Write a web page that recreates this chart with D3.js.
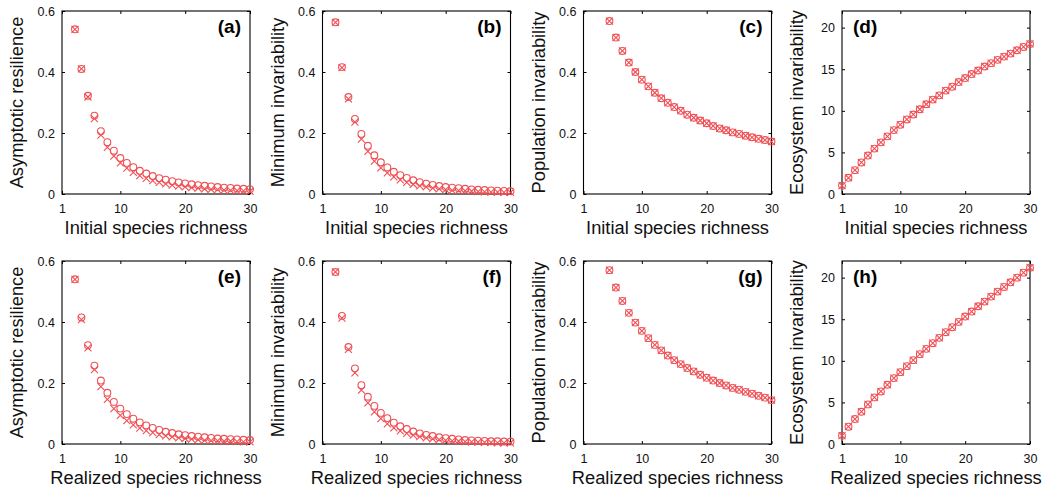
<!DOCTYPE html>
<html>
<head>
<meta charset="utf-8">
<script src="https://cdn.jsdelivr.net/npm/d3@7"></script>
<style>
  body { margin: 0; background: #fff; }
  svg { display: block; font-family: "Liberation Sans", Arial, sans-serif; }
</style>
</head>
<body>
<svg id="chart" width="1048" height="494"></svg>
<script>
// richness values (x) for each kind of panel
const richnessFrom3 = [3, 4, 5, 6, 7, 8, 9, 10, 11, 12, 13, 14, 15, 16, 17, 18, 19, 20, 21, 22, 23, 24, 25, 26, 27, 28, 29, 30];
const richnessFrom5 = [5, 6, 7, 8, 9, 10, 11, 12, 13, 14, 15, 16, 17, 18, 19, 20, 21, 22, 23, 24, 25, 26, 27, 28, 29, 30];
const richnessFrom1 = [1, 2, 3, 4, 5, 6, 7, 8, 9, 10, 11, 12, 13, 14, 15, 16, 17, 18, 19, 20, 21, 22, 23, 24, 25, 26, 27, 28, 29, 30];

const xTicks = [1, 10, 20, 30];
const fractionTicks = [0, 0.2, 0.4, 0.6];
const ecosystemTicks = [0, 5, 10, 15, 20];

// (a) asymptotic resilience vs initial richness
const resilienceInitialCircles = [0.54, 0.41, 0.322, 0.257, 0.206, 0.17, 0.142, 0.118, 0.102, 0.088, 0.076, 0.067, 0.059, 0.052, 0.047, 0.042, 0.038, 0.035, 0.032, 0.029, 0.027, 0.025, 0.023, 0.021, 0.02, 0.018, 0.017, 0.016];
const resilienceInitialCrosses = [0.54, 0.41, 0.318, 0.247, 0.193, 0.153, 0.124, 0.102, 0.085, 0.071, 0.06, 0.051, 0.044, 0.038, 0.033, 0.029, 0.026, 0.023, 0.021, 0.019, 0.017, 0.015, 0.014, 0.013, 0.012, 0.011, 0.01, 0.009];
// (b) minimum invariability vs initial richness
const minInvInitialCircles = [0.563, 0.416, 0.318, 0.246, 0.197, 0.158, 0.127, 0.104, 0.087, 0.073, 0.062, 0.053, 0.045, 0.039, 0.034, 0.03, 0.026, 0.023, 0.021, 0.019, 0.017, 0.015, 0.014, 0.013, 0.012, 0.011, 0.01, 0.009];
const minInvInitialCrosses = [0.563, 0.414, 0.312, 0.236, 0.18, 0.14, 0.108, 0.086, 0.069, 0.056, 0.046, 0.038, 0.032, 0.027, 0.023, 0.019, 0.017, 0.014, 0.012, 0.011, 0.01, 0.009, 0.008, 0.007, 0.006, 0.006, 0.005, 0.005];
// (c) population invariability vs initial richness
const popInvInitial = [0.567, 0.513, 0.469, 0.431, 0.4, 0.375, 0.353, 0.332, 0.314, 0.299, 0.285, 0.273, 0.26, 0.25, 0.241, 0.232, 0.223, 0.215, 0.209, 0.202, 0.197, 0.191, 0.186, 0.181, 0.177, 0.172];
// (d) ecosystem invariability vs initial richness
const ecoInvInitial = [1, 1.95, 2.87, 3.79, 4.62, 5.46, 6.21, 6.93, 7.68, 8.33, 8.96, 9.56, 10.19, 10.79, 11.35, 11.86, 12.43, 12.9, 13.46, 13.94, 14.42, 14.85, 15.33, 15.73, 16.13, 16.52, 16.88, 17.28, 17.68, 18.04];

// (e) asymptotic resilience vs realized richness
const resilienceRealizedCircles = [0.54, 0.415, 0.324, 0.257, 0.208, 0.168, 0.138, 0.116, 0.098, 0.083, 0.071, 0.061, 0.053, 0.046, 0.04, 0.036, 0.032, 0.029, 0.026, 0.024, 0.022, 0.02, 0.018, 0.017, 0.016, 0.015, 0.014, 0.013];
const resilienceRealizedCrosses = [0.54, 0.408, 0.315, 0.244, 0.188, 0.146, 0.116, 0.094, 0.077, 0.063, 0.052, 0.044, 0.037, 0.031, 0.027, 0.023, 0.02, 0.018, 0.016, 0.014, 0.012, 0.011, 0.01, 0.009, 0.009, 0.008, 0.007, 0.007];
// (f) minimum invariability vs realized richness
const minInvRealizedCircles = [0.564, 0.42, 0.318, 0.248, 0.193, 0.155, 0.125, 0.102, 0.085, 0.07, 0.058, 0.049, 0.041, 0.035, 0.03, 0.026, 0.022, 0.019, 0.017, 0.015, 0.013, 0.012, 0.011, 0.01, 0.009, 0.009, 0.008, 0.008];
const minInvRealizedCrosses = [0.564, 0.413, 0.31, 0.233, 0.177, 0.135, 0.105, 0.083, 0.066, 0.053, 0.043, 0.035, 0.029, 0.024, 0.02, 0.017, 0.014, 0.012, 0.01, 0.009, 0.008, 0.007, 0.006, 0.005, 0.005, 0.004, 0.004, 0.004];
// (g) population invariability vs realized richness
const popInvRealized = [0.57, 0.513, 0.469, 0.43, 0.398, 0.371, 0.347, 0.325, 0.307, 0.29, 0.275, 0.262, 0.249, 0.238, 0.227, 0.217, 0.208, 0.2, 0.192, 0.184, 0.178, 0.171, 0.165, 0.158, 0.152, 0.144];
// (h) ecosystem invariability vs realized richness
const ecoInvRealized = [1, 2.08, 3.0, 3.88, 4.76, 5.6, 6.32, 7.12, 7.92, 8.64, 9.36, 10.08, 10.8, 11.44, 12.12, 12.76, 13.44, 14.04, 14.68, 15.32, 15.92, 16.56, 17.12, 17.72, 18.32, 18.88, 19.44, 20.0, 20.6, 21.2];

const MARKER_COLOR = "#ef5055";
const PANEL_WIDTH = 188;
const PANEL_HEIGHT = 183;
const COLUMN_LEFTS = [62, 322.5, 583.5, 842];
const ROW_TOPS = [11, 261];

const panels = [
  { tag: "(a)", row: 0, col: 0, yLabel: "Asymptotic resilience", x: richnessFrom3, circles: resilienceInitialCircles, crosses: resilienceInitialCrosses },
  { tag: "(b)", row: 0, col: 1, yLabel: "Minimum invariability", x: richnessFrom3, circles: minInvInitialCircles, crosses: minInvInitialCrosses },
  { tag: "(c)", row: 0, col: 2, yLabel: "Population invariability", x: richnessFrom5, circles: popInvInitial, crosses: popInvInitial },
  { tag: "(d)", row: 0, col: 3, yLabel: "Ecosystem invariability", x: richnessFrom1, circles: ecoInvInitial, crosses: ecoInvInitial, eco: true },
  { tag: "(e)", row: 1, col: 0, yLabel: "Asymptotic resilience", x: richnessFrom3, circles: resilienceRealizedCircles, crosses: resilienceRealizedCrosses },
  { tag: "(f)", row: 1, col: 1, yLabel: "Minimum invariability", x: richnessFrom3, circles: minInvRealizedCircles, crosses: minInvRealizedCrosses },
  { tag: "(g)", row: 1, col: 2, yLabel: "Population invariability", x: richnessFrom5, circles: popInvRealized, crosses: popInvRealized },
  { tag: "(h)", row: 1, col: 3, yLabel: "Ecosystem invariability", x: richnessFrom1, circles: ecoInvRealized, crosses: ecoInvRealized, eco: true },
];

const svg = d3.select("#chart");

function drawPanel(p) {
  const left = COLUMN_LEFTS[p.col];
  const top = ROW_TOPS[p.row];
  const g = svg.append("g").attr("transform", `translate(${left},${top})`);

  const x = d3.scaleLinear().domain([1, 30]).range([0, PANEL_WIDTH]);
  const y = d3.scaleLinear().domain(p.eco ? [0, 22] : [0, 0.6]).range([PANEL_HEIGHT, 0]);
  const yTicks = p.eco ? ecosystemTicks : fractionTicks;
  const yFormat = p.eco ? d3.format("d") : (d) => (d === 0 ? "0" : d3.format(".1f")(d));

  // inward ticks on all four sides, matlab style
  const tickStyle = (sel) => {
    sel.select(".domain").remove();
    sel.selectAll(".tick line").attr("stroke", "#000").attr("stroke-width", 1);
    sel.selectAll(".tick text").attr("fill", "#111").style("font-size", "12.5px").style("font-family", "Liberation Sans, Arial, sans-serif");
  };

  g.append("g")
    .attr("transform", `translate(0,${PANEL_HEIGHT})`)
    .call(d3.axisBottom(x).tickValues(xTicks).tickSize(-3).tickPadding(10).tickFormat(d3.format("d")))
    .call(tickStyle);
  g.append("g")
    .call(d3.axisTop(x).tickValues(xTicks).tickSize(-3).tickFormat(""))
    .call(tickStyle);
  g.append("g")
    .call(d3.axisLeft(y).tickValues(yTicks).tickSize(-3).tickPadding(7).tickFormat(yFormat))
    .call(tickStyle);
  g.append("g")
    .attr("transform", `translate(${PANEL_WIDTH},0)`)
    .call(d3.axisRight(y).tickValues(yTicks).tickSize(-3).tickFormat(""))
    .call(tickStyle);

  g.append("rect")
    .attr("width", PANEL_WIDTH)
    .attr("height", PANEL_HEIGHT)
    .attr("fill", "none")
    .attr("stroke", "#000")
    .attr("stroke-width", 1.1);

  const points = p.x.map((xv, i) => ({ x: xv, circle: p.circles[i], cross: p.crosses[i] }));

  g.append("g")
    .selectAll("circle")
    .data(points)
    .enter()
    .append("circle")
    .attr("cx", (d) => x(d.x))
    .attr("cy", (d) => y(d.circle))
    .attr("r", 3.4)
    .attr("fill", "none")
    .attr("stroke", MARKER_COLOR)
    .attr("stroke-width", 1.1);

  const s = 3.5;
  g.append("g")
    .selectAll("path")
    .data(points)
    .enter()
    .append("path")
    .attr("d", (d) => {
      const cx = x(d.x);
      const cy = y(d.cross);
      return `M${cx - s},${cy - s}L${cx + s},${cy + s}M${cx - s},${cy + s}L${cx + s},${cy - s}`;
    })
    .attr("fill", "none")
    .attr("stroke", MARKER_COLOR)
    .attr("stroke-width", 1.1);

  // panel tag: top-left for the ecosystem panels, top-right otherwise
  g.append("text")
    .attr("x", p.eco ? 11 : PANEL_WIDTH - 9)
    .attr("y", 22)
    .attr("text-anchor", p.eco ? "start" : "end")
    .style("font-size", "19px")
    .style("font-weight", "bold")
    .attr("fill", "#000")
    .text(p.tag);

  g.append("text")
    .attr("x", PANEL_WIDTH / 2)
    .attr("y", PANEL_HEIGHT + 40)
    .attr("text-anchor", "middle")
    .style("font-size", "18.3px")
    .attr("fill", "#111")
    .text(p.row === 0 ? "Initial species richness" : "Realized species richness");

  g.append("text")
    .attr("transform", `translate(-39,${PANEL_HEIGHT / 2}) rotate(-90)`)
    .attr("text-anchor", "middle")
    .style("font-size", "18.3px")
    .attr("fill", "#111")
    .text(p.yLabel);
}

panels.forEach(drawPanel);
</script>
</body>
</html>
